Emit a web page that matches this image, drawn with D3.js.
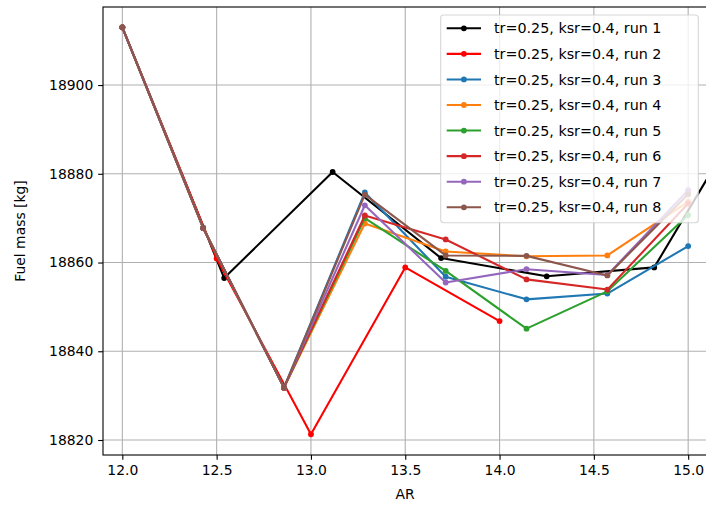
<!DOCTYPE html>
<html>
<head>
<meta charset="utf-8">
<script src="https://cdn.jsdelivr.net/npm/d3@7"></script>
<style>
  html, body { margin: 0; padding: 0; background: #fff; }
  svg { display: block; }
  text { font-family: "DejaVu Sans", sans-serif; }
</style>
</head>
<body>
<svg id="chart" width="706" height="506"></svg>
<script>
// ---- data ----
const arGrid = [12.0, 12.4286, 12.8571, 13.2857, 13.7143, 14.1429, 14.5714, 15.0];
const arRun1 = [12.0, 12.54, 13.115, 13.69, 14.25, 14.82, 15.39];
const arRun2 = [12.0, 12.5, 13.0, 13.5, 14.0];

const run1 = [18913.0, 18856.5, 18880.4, 18861.0, 18856.9, 18858.9, 18899.5];
const run2 = [18913.0, 18860.9, 18821.3, 18858.9, 18846.8];
const run3 = [18913.0, 18867.8, 18831.8, 18875.8, 18856.8, 18851.7, 18853.0, 18863.7];
const run4 = [18913.0, 18867.8, 18831.8, 18868.8, 18862.5, 18861.4, 18861.6, 18873.7];
const run5 = [18913.0, 18867.8, 18831.8, 18870.0, 18858.1, 18845.1, 18853.5, 18870.7];
const run6 = [18913.0, 18867.8, 18831.8, 18870.6, 18865.2, 18856.2, 18853.9, 18873.3];
const run7 = [18913.0, 18867.8, 18831.8, 18872.9, 18855.5, 18858.5, 18857.2, 18876.3];
const run8 = [18913.0, 18867.8, 18831.8, 18875.3, 18861.6, 18861.5, 18857.1, 18875.4];

const seriesLabels = [
  "tr=0.25, ksr=0.4, run 1", "tr=0.25, ksr=0.4, run 2", "tr=0.25, ksr=0.4, run 3",
  "tr=0.25, ksr=0.4, run 4", "tr=0.25, ksr=0.4, run 5", "tr=0.25, ksr=0.4, run 6",
  "tr=0.25, ksr=0.4, run 7", "tr=0.25, ksr=0.4, run 8"
];
const seriesColors = ["#000000", "#ff0000", "#1f77b4", "#ff7f0e", "#2ca02c", "#d62728", "#9467bd", "#8c564b"];
const xTicks = [12.0, 12.5, 13.0, 13.5, 14.0, 14.5, 15.0];
const yTicks = [18820, 18840, 18860, 18880, 18900];
const xLabel = "AR";
const yLabel = "Fuel mass [kg]";

const series = [
  {x: arRun1, y: run1}, {x: arRun2, y: run2},
  {x: arGrid, y: run3}, {x: arGrid, y: run4}, {x: arGrid, y: run5},
  {x: arGrid, y: run6}, {x: arGrid, y: run7}, {x: arGrid, y: run8}
].map((s, i) => ({label: seriesLabels[i], color: seriesColors[i],
                  pts: s.x.map((xv, j) => [xv, s.y[j]])}));

// ---- layout ----
const L = 103, R = 707, T = 7, B = 455;
const svg = d3.select("#chart");

const x = d3.scaleLinear().domain([11.8975, 15.0998]).range([L, R]);
const y = d3.scaleLinear().domain([18816.62, 18917.59]).range([B, T]);

// grid
const grid = svg.append("g");
grid.selectAll("line.gx").data(xTicks).join("line")
  .attr("x1", d => x(d)).attr("x2", d => x(d)).attr("y1", T).attr("y2", B)
  .attr("stroke", "#b0b0b0").attr("stroke-width", 1.1);
grid.selectAll("line.gy").data(yTicks).join("line")
  .attr("y1", d => y(d)).attr("y2", d => y(d)).attr("x1", L).attr("x2", R)
  .attr("stroke", "#b0b0b0").attr("stroke-width", 1.1);

// clip
svg.append("defs").append("clipPath").attr("id", "clip")
  .append("rect").attr("x", L).attr("y", T).attr("width", R - L).attr("height", B - T);

const plot = svg.append("g").attr("clip-path", "url(#clip)");
const line = d3.line().x(d => x(d[0])).y(d => y(d[1]));
series.forEach(s => {
  const g = plot.append("g");
  g.append("path").attr("d", line(s.pts)).attr("fill", "none")
    .attr("stroke", s.color).attr("stroke-width", 2.08)
    .attr("stroke-linejoin", "round").attr("stroke-linecap", "square");
  g.selectAll("circle").data(s.pts).join("circle")
    .attr("cx", d => x(d[0])).attr("cy", d => y(d[1])).attr("r", 2.9)
    .attr("fill", s.color);
});

// axes
const xAxis = d3.axisBottom(x).tickValues(xTicks).tickFormat(d3.format(".1f"))
  .tickSize(4.86).tickPadding(4.86);
const yAxis = d3.axisLeft(y).tickValues(yTicks).tickFormat(d3.format("d"))
  .tickSize(4.86).tickPadding(4.86);

const gx = svg.append("g").attr("transform", `translate(0,${B})`).call(xAxis);
const gy = svg.append("g").attr("transform", `translate(${L},0)`).call(yAxis);
[gx, gy].forEach(g => {
  g.select(".domain").remove();
  g.selectAll(".tick line").attr("stroke", "#000").attr("stroke-width", 1.1);
  g.selectAll(".tick text").attr("fill", "#000")
    .style("font-family", "'DejaVu Sans', sans-serif").style("font-size", "13.9px");
});

// spines
svg.append("rect").attr("x", L).attr("y", T).attr("width", R - L).attr("height", B - T)
  .attr("fill", "none").attr("stroke", "#000").attr("stroke-width", 1.1);

// axis labels
svg.append("text").attr("x", (L + R) / 2).attr("y", 499).attr("text-anchor", "middle")
  .style("font-size", "13.9px").attr("fill", "#000").text(xLabel);
svg.append("text").attr("transform", `translate(25,${(T + B) / 2}) rotate(-90)`)
  .attr("text-anchor", "middle").style("font-size", "13.9px").attr("fill", "#000").text(yLabel);

// legend
const lg = svg.append("g");
const lgX = 440.7, lgY = 15, lgW = 257.6, lgH = 207.7;
lg.append("rect").attr("x", lgX).attr("y", lgY).attr("width", lgW).attr("height", lgH)
  .attr("rx", 3).attr("ry", 3).attr("fill", "#fff").attr("fill-opacity", 0.8)
  .attr("stroke", "#cccccc").attr("stroke-opacity", 0.8).attr("stroke-width", 1.1);
series.forEach((s, i) => {
  const cy = 28.3 + i * 25.57;
  lg.append("line").attr("x1", 446.7).attr("x2", 481).attr("y1", cy).attr("y2", cy)
    .attr("stroke", s.color).attr("stroke-width", 2.08);
  lg.append("circle").attr("cx", 463.9).attr("cy", cy).attr("r", 2.9).attr("fill", s.color);
  lg.append("text").attr("x", 494).attr("y", cy).attr("dy", "0.36em")
    .style("font-size", "14.3px").attr("fill", "#000").text(s.label);
});
</script>
</body>
</html>
